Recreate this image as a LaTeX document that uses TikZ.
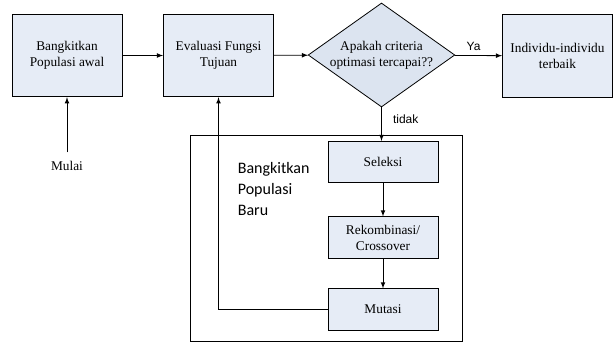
\documentclass[tikz,border=0pt]{standalone}
\usepackage{fontspec}
\setmainfont{Liberation Serif}
\newfontfamily\calibri{Carlito}
\newfontfamily\arial{Liberation Sans}
\usetikzlibrary{arrows, shapes.geometric, positioning}
\definecolor{isikotak}{HTML}{E6ECF6}
\definecolor{isibelah}{HTML}{DCE4F0}

\begin{document}
\begin{tikzpicture}[x=0.75pt, y=-0.75pt, >=latex, line width=0.6pt,
    kotak/.style={draw, fill=isikotak, align=center, inner sep=2pt,
      minimum width=82.5pt, minimum height=62pt, font=\fontsize{10}{12}\selectfont},
    kotakkecil/.style={kotak, minimum height=31pt},
    tekspanah/.style={font=\arial\fontsize{9}{11}\selectfont}]
    \useasboundingbox (0,0) rectangle (614,343);
    % Bingkai populasi baru
    \node[draw, minimum width=204pt, minimum height=155pt, inner sep=0pt] (baru) at (326,238.5) {};
    \node[anchor=north west, align=left, font=\calibri\fontsize{12}{15.4}\selectfont] (teksbaru) at (233,158) {Bangkitkan\\Populasi\\Baru};
    % Kotak utama
    \node[kotak] (awal) at (67,55.5) {Bangkitkan\\Populasi awal};
    \node[kotak] (evaluasi) at (218.5,55.5) {Evaluasi Fungsi\\Tujuan};
    \node[draw, diamond, fill=isibelah, inner sep=0pt, minimum width=110pt, minimum height=78pt,
      label={[font=\fontsize{10}{12}\selectfont, align=center]center:Apakah criteria\\optimasi tercapai??}] (kriteria) at (381.5,55) {};
    \node[kotak] (terbaik) at (557.5,56) {Individu-individu\\terbaik};
    \node[font=\fontsize{10}{12}\selectfont] (mulai) at (67,166) {Mulai};
    % Kotak operator
    \node[kotakkecil] (seleksi) at (383,162) {Seleksi};
    \node[kotakkecil] (rekombinasi) at (383,237.5) {Rekombinasi/\\Crossover};
    \node[kotakkecil] (mutasi) at (383,309.5) {Mutasi};
    % Panah
    \draw[->] (mulai.north) ++(0,-4) -- (awal.south);
    \draw[->] (awal) -- (evaluasi);
    \draw[->] (evaluasi) -- (kriteria);
    \draw[->] (kriteria) -- node[tekspanah, above, pos=0.4] {Ya} (terbaik);
    \draw[->] (kriteria.south) -- node[tekspanah, right, xshift=5pt, pos=0.35] {tidak} (kriteria.south |- seleksi.north);
    \draw[->] (seleksi) -- (rekombinasi);
    \draw[->] (rekombinasi) -- (mutasi);
    \draw[->] (mutasi.west) -| (evaluasi.south);
\end{tikzpicture}
\end{document}
